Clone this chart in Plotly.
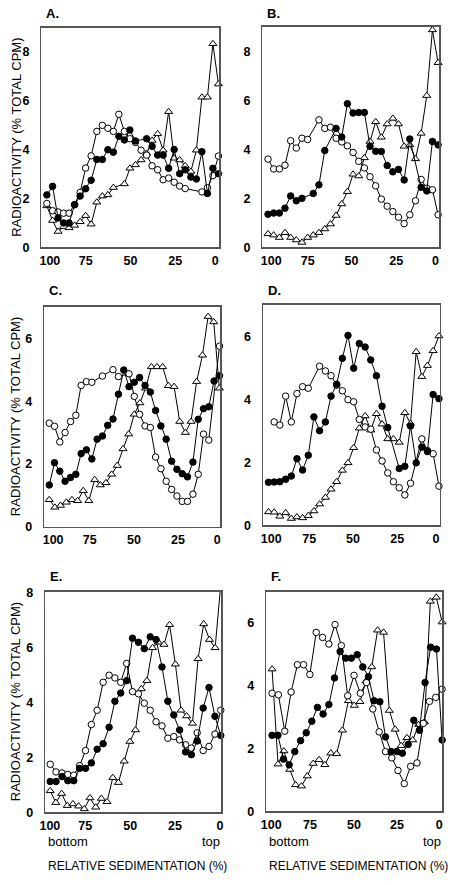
import plotly.graph_objects as go

# ---------------- data (relative sedimentation %, radioactivity % total CPM) ----------------
X_TICK_TEXT = ["100", "75", "50", "25", "0"]

# Panel A
A_X = [96.9, 93.7, 90.6, 87.5, 84.4, 81.3, 78.2, 75.1, 72.0, 68.8, 65.7, 62.6, 59.5, 56.4, 53.3, 50.2,
       47.1, 43.9, 40.8, 37.7, 34.6, 31.5, 28.4, 25.3, 22.2, 19.1, 15.9, 12.8, 9.7, 6.6, 3.5, 0.4]
A_OPEN = [1.8, 1.5, 1.45, 1.4, 1.4, 1.75, 2.25, 3.25, 3.75, 4.75, 5.0, 4.88, 4.75, 5.45, 4.75, 4.45,
          4.3, 3.98, 3.78, 3.34, 3.18, 2.77, 2.84, 2.67, 2.51, 2.41, None, None, 2.27, 2.44, 2.94, 3.74]
A_FILLED = [2.15, 2.5, 1.2, 1.0, 1.0, 1.75, 2.1, 2.4, 2.75, 3.6, 3.6, 4.0, 3.9, 4.55, 4.4, 4.81,
            4.36, None, 4.45, 4.14, 3.78, 3.78, 3.24, 4.01, 3.02, 3.18, 2.88, 2.80, 3.92, 2.21, 3.24, 3.02]
A_TRI = [1.7, 1.1, 0.65, 0.85, 0.8, 0.9, 1.05, 1.3, 0.95, 1.85, 2.1, 2.15, 2.45, None, 2.6, 3.24,
         3.38, 3.58, 3.85, 4.38, 4.65, 3.98, 5.56, 3.65, 3.58, 3.34, 3.11, 3.98, 6.15, 6.15, 8.34, 6.69]
A_XTICKS = [95.2, 75.1, 49.9, 24.7, 2.2]

# Panel B
B_X = [96.8, 93.6, 90.4, 87.2, 84.0, 80.8, 77.6, 74.4, 71.2, 68.0, 64.7, 61.5, 58.3, 55.1, 51.9, 48.7,
       45.5, 42.3, 39.1, 35.9, 32.7, 29.4, 26.2, 23.0, 19.8, 16.6, 13.4, 10.2, 7.0, 3.8, 0.6]
B_OPEN = [3.6, 3.2, 3.2, 3.35, 4.35, 4.05, 4.45, 4.4, None, 5.2, 4.85, 4.9, 4.45, 4.3, 4.14, 3.87,
          3.51, 3.24, 2.88, 2.51, 1.97, 1.68, 1.46, 1.23, 0.97, 1.33, 1.9, 2.77, 2.41, 2.35, 1.33]
B_FILLED = [1.35, 1.4, 1.4, 1.6, 2.1, 1.9, 2.0, None, 2.2, 2.55, 3.95, None, 4.85, 4.5, 5.86, 5.48,
            5.5, 5.5, 4.12, 3.92, 3.91, 3.34, 3.08, 3.18, 2.75, 4.42, None, 2.45, 2.3, 4.32, 4.18]
B_TRI = [0.55, 0.5, 0.4, 0.6, 0.4, 0.3, 0.2, 0.4, 0.5, 0.6, 0.75, 0.95, 1.3, 1.77, 2.27, 2.98,
         2.91, 3.65, 4.32, 5.12, 4.49, 5.03, 5.26, 5.03, 4.12, 4.18, 3.61, 4.65, 6.19, 8.87, 7.53]
B_XTICKS = [95.0, 74.3, 49.6, 24.3, 2.1]

# Panel C
C_X = [97.2, 94.2, 91.2, 88.2, 85.1, 82.1, 79.1, 76.1, 73.0, 70.0, 67.0, 64.0, 61.0, 57.9, 54.9, 51.9,
       48.9, 45.9, 42.8, 39.8, 36.8, 33.8, 30.8, 27.7, 24.7, 21.7, 18.7, 15.6, 12.6, 9.6, 6.6, 3.6, 0.5]
C_OPEN = [3.3, 3.2, 2.7, 3.0, 3.35, 3.55, 4.5, 4.62, 4.6, None, 4.8, None, 5.0, 4.78, None, 4.87,
          4.15, 3.58, 3.21, 3.16, 2.22, 1.85, 1.45, 1.19, 0.98, 0.81, 0.81, 1.04, 1.67, 2.95, 2.76, None, 5.75]
C_FILLED = [1.33, 2.04, 1.77, 1.45, 1.57, 1.67, 2.33, 2.45, 2.16, 2.79, 2.89, 3.23, 3.43, 4.22, 4.99, 4.46,
            4.6, 4.75, 4.5, 4.29, 3.7, 3.21, 2.79, 2.09, 1.83, 1.69, 1.59, 2.06, 3.42, 3.76, 3.82, 4.64, 4.81]
C_TRI_X = [97.2, 94.0, 90.8, 87.5, 84.3, 81.1, 77.9, 74.7, 71.4, 68.2, 65.0, 61.8, 58.6, 55.3, 52.1, 48.9,
           45.7, 42.5, 39.2, 36.0, 32.8, 29.6, 26.3, 23.1, 19.9, 16.7, 13.5, 10.2, 7.0, 3.8, 0.6]
C_TRI = [0.86, 0.62, 0.68, 0.78, 0.86, 0.83, 1.15, 0.83, 1.5, 1.33, 1.4, 1.67, 1.95, 2.48, 2.95, 3.58,
         3.94, 4.41, 5.09, 5.09, 5.09, 4.49, 4.46, 3.35, 3.0, 3.35, 4.62, 5.46, 6.69, 6.52, 4.41]
C_XTICKS = [95.0, 74.2, 49.1, 24.1, 1.8]

# Panel D
D_X = [96.9, 93.7, 90.5, 87.2, 84.0, 80.8, 77.6, 74.4, 71.2, 68.0, 64.7, 61.5, 58.3, 55.1, 51.9, 48.7,
       45.5, 42.2, 39.0, 35.8, 32.6, 29.4, 26.2, 22.9, 19.7, 16.5, 13.3, 10.1, 6.9, 3.7, 0.4]
D_OPEN = [None, 3.28, 3.18, 4.1, 3.28, 4.18, 4.4, 4.35, None, 5.05, 4.9, 4.75, 4.45, 4.27, 3.99, 3.92,
          3.36, 3.12, 3.05, 2.39, 2.04, 1.66, 1.38, 1.19, 0.96, 1.33, None, 2.74, 2.37, 2.27, 1.24]
D_FILLED = [1.36, 1.37, 1.38, 1.46, 1.56, 2.11, 1.75, 2.22, 3.44, 3.0, 3.28, 4.1, 4.48, 5.3, 6.03, 4.99,
            5.77, 5.66, 5.25, 4.75, 3.78, 3.1, None, 1.8, 1.87, 3.15, 1.98, 2.48, 2.34, 4.15, 4.02]
D_TRI = [0.42, 0.41, 0.28, 0.39, 0.21, 0.26, 0.23, 0.3, 0.45, 0.67, 0.88, 1.14, 1.38, 1.74, 1.98, 2.46,
         3.08, 3.47, 3.02, 3.54, 3.21, 2.74, 2.74, 2.63, 3.57, 3.23, 5.51, 4.72, 5.07, 5.54, 6.01]
D_XTICKS = [95.4, 73.9, 49.1, 24.0, 2.1]

# Panel E
E_X = [97.2, 93.9, 90.5, 87.2, 83.8, 80.5, 77.1, 73.8, 70.5, 67.1, 63.7, 60.4, 57.1, 53.7, 50.4,
       47.0, 43.7, 40.3, 37.0, 33.6, 30.3, 26.9, 23.6, 20.2, 16.9, 13.6, 10.2, 6.9, 3.5, 0.2]
E_OPEN = [1.75, 1.47, 1.43, 1.38, 1.35, 1.7, 2.25, 3.2, 3.72, 4.74, 5.0, 4.9, 4.74, 5.43, 4.4,
          4.32, 3.98, 3.72, 3.3, 3.15, 2.7, 2.76, 2.64, 2.46, 2.34, 2.9, 2.25, 2.4, 2.85, 3.72]
E_FILLED = [1.12, 1.12, 1.3, 1.15, 1.15, 1.6, 1.6, 1.8, 2.3, 2.5, 3.1, 4.05, 4.35, 4.8, 6.35,
            6.2, 5.97, 6.4, 6.3, 5.3, 4.05, 3.55, 3.0, 2.2, 2.1, 2.6, 3.8, 4.55, 3.5, 2.8]
E_TRI_X = [97.2, 94.0, 90.7, 87.5, 84.3, 81.0, 77.8, 74.6, 71.3, 68.1, 64.9, 61.6, 58.4, 55.1, 51.9, 48.7,
           45.4, 42.2, 39.0, 35.7, 32.5, 29.3, 26.0, 22.8, 19.6, 16.3, 13.1, 9.9, 6.6, 3.4, 0.2]
E_TRI = [0.78, 0.35, 0.68, 0.24, 0.3, 0.22, 0.12, 0.52, 0.18, 0.5, 0.38, 1.26, 1.08, 1.86, 2.58, 3.0,
         4.5, 4.8, 6.0, 6.2, 6.12, 6.84, 5.4, 3.72, 3.51, 3.24, 5.6, 6.87, 6.3, 6.0, 8.3]
E_XTICKS = [97.4, 77.3, 51.7, 26.2, 0.6]

# Panel F
F_X = [96.7, 93.4, 90.2, 87.0, 83.8, 80.5, 77.3, 74.1, 70.9, 67.7, 64.4, 61.2, 58.0, 54.8, 51.6, 48.3,
       45.1, 41.9, 38.7, 35.4, 32.2, 29.0, 25.8, 22.6, 19.3, 16.1, 12.9, 9.7, 6.5, 3.2, 0.0]
F_FILLED = [2.42, 2.42, 1.66, 1.48, 1.9, 2.25, 2.5, 2.87, 3.31, 3.1, 3.4, 4.25, 5.09, 4.88, 4.88, 4.99,
            4.6, 4.29, 3.52, 3.49, 2.37, 1.9, 1.9, 1.85, 2.13, 2.9, 2.58, 4.1, 5.23, 5.17, 2.27]
F_TRI_X = [96.7, 93.3, 90.0, 86.6, 83.3, 80.0, 76.7, 73.3, 70.0, 66.7, 63.3, 60.0, 56.7, 53.3, 50.0,
           46.7, 43.3, 40.0, 36.7, 33.3, 30.0, 26.7, 23.3, 20.0, 16.7, 13.3, 10.0, 6.7, 3.3, 0.0]
F_TRI = [4.53, 1.5, 1.92, 1.33, 0.84, 0.8, 1.12, 1.52, 1.64, 1.48, 1.85, 1.83, 2.58, 3.52, 3.37,
         3.49, 4.15, 4.6, 5.77, 5.7, 3.21, 2.61, 2.09, 2.34, 2.27, 2.76, 2.84, 6.69, 6.82, 6.03]
F_OPEN_X = [96.7, 93.1, 89.5, 85.9, 82.3, 78.8, 75.2, 71.6, 68.0, 64.4, 60.9, 57.3, 53.7, 50.1,
            46.5, 43.0, 39.4, 35.8, 32.2, 28.6, 25.1, 21.5, 17.9, 14.3, 10.7, 7.2, 3.6, 0.0]
F_OPEN = [3.76, 3.71, 2.55, 3.8, 4.67, 4.67, 4.36, 5.7, 5.54, 5.33, 5.95, 5.28, 3.68, 4.33,
          3.76, 4.1, 3.26, 2.53, 1.9, 1.7, 1.3, 0.88, 1.43, 1.54, 2.8, 3.5, 3.63, 3.89]
F_XTICKS = [97.2, 75.2, 50.1, 25.7, 1.7]

Y_TITLE = "RADIOACTIVITY (% TOTAL CPM)"
X_TITLE = "RELATIVE SEDIMENTATION (%)"

# ---------------- figure ----------------
W, H = 450, 885
FONT = "Arial, 'Liberation Sans', sans-serif"


def px_x(v):
    return v / W


def px_y(v):
    return 1 - v / H


MARK = {
    "tri": dict(symbol="triangle-up", size=7, color="white", line=dict(color="black", width=1)),
    "open": dict(symbol="circle", size=6.5, color="white", line=dict(color="black", width=1)),
    "filled": dict(symbol="circle", size=6.5, color="black", line=dict(color="black", width=1)),
}

panels = [
    dict(label="A.", box=(36, 217, 23, 245.7), yr=9.0, yt=[0, 2, 4, 6, 8], xt=A_XTICKS,
         series=[(A_X, A_TRI, "tri"), (A_X, A_OPEN, "open"), (A_X, A_FILLED, "filled")], ytitle=True,
         lab_y=9),
    dict(label="B.", box=(261, 441, 22, 245.7), yr=9.0, yt=[0, 2, 4, 6, 8], xt=B_XTICKS,
         series=[(B_X, B_TRI, "tri"), (B_X, B_OPEN, "open"), (B_X, B_FILLED, "filled")], ytitle=False,
         lab_y=9),
    dict(label="C.", box=(39, 218.3, 306, 529), yr=7.0, yt=[0, 2, 4, 6], xt=C_XTICKS,
         series=[(C_TRI_X, C_TRI, "tri"), (C_X, C_OPEN, "open"), (C_X, C_FILLED, "filled")], ytitle=True,
         lab_y=289),
    dict(label="D.", box=(261.7, 441.5, 304, 527.3), yr=7.0, yt=[0, 2, 4, 6], xt=D_XTICKS,
         series=[(D_X, D_TRI, "tri"), (D_X, D_OPEN, "open"), (D_X, D_FILLED, "filled")], ytitle=False,
         lab_y=289),
    dict(label="E.", box=(40, 219, 594.7, 818.3), yr=8.05, yt=[0, 2, 4, 6, 8], xt=E_XTICKS,
         series=[(E_TRI_X, E_TRI, "tri"), (E_X, E_OPEN, "open"), (E_X, E_FILLED, "filled")], ytitle=True,
         lab_y=579, bottom=True),
    dict(label="F.", box=(265, 444, 594.7, 817.3), yr=7.0, yt=[0, 2, 4, 6], xt=F_XTICKS,
         series=[(F_TRI_X, F_TRI, "tri"), (F_OPEN_X, F_OPEN, "open"), (F_X, F_FILLED, "filled")], ytitle=False,
         lab_y=579, bottom=True),
]

fig = go.Figure()
annotations = []
layout_axes = {}

for i, p in enumerate(panels):
    k = "" if i == 0 else str(i + 1)
    xa, ya = "x" + k, "y" + k
    left, right, top, bottom = p["box"]
    for xs, ys, kind in p["series"]:
        fig.add_trace(go.Scatter(
            x=xs, y=ys, mode="lines+markers", connectgaps=True,
            xaxis=xa, yaxis=ya, showlegend=False, hoverinfo="skip",
            line=dict(color="black", width=1), marker=MARK[kind],
            cliponaxis=(p["label"] == "E." and kind == "tri"),
        ))
    layout_axes["xaxis" + k] = dict(
        domain=[px_x(left), px_x(right)], range=[100, 0], anchor=ya,
        tickmode="array", tickvals=p["xt"], ticktext=X_TICK_TEXT,
        ticks="", showgrid=False, zeroline=False,
        showline=True, mirror=True, linecolor="#555", linewidth=1.5,
        tickfont=dict(family=FONT, size=12.5, color="black", weight="bold"),
        ticklabelstandoff=1,
    )
    layout_axes["yaxis" + k] = dict(
        domain=[px_y(bottom), px_y(top)], range=[0, p["yr"]], anchor=xa,
        tickmode="array", tickvals=p["yt"],
        ticks="", showgrid=False, zeroline=False,
        showline=True, mirror=True, linecolor="#555", linewidth=1.5,
        tickfont=dict(family=FONT, size=12.5, color="black", weight="bold"),
        ticklabelstandoff=8,
    )
    annotations.append(dict(
        text="<b>%s</b>" % p["label"], xref="paper", yref="paper",
        x=px_x(left + 3), y=px_y(p["lab_y"]), xanchor="left", yanchor="middle",
        showarrow=False, font=dict(family=FONT, size=13, color="black"),
    ))
    if p["ytitle"]:
        annotations.append(dict(
            text=Y_TITLE, xref="paper", yref="paper", textangle=-90,
            x=px_x(10.5), y=px_y((top + bottom) / 2), xanchor="center", yanchor="middle",
            showarrow=False, font=dict(family=FONT, size=13, color="black"),
        ))
    if p.get("bottom"):
        annotations.append(dict(
            text="bottom", xref="paper", yref="paper",
            x=px_x(left + 1), y=px_y(848), xanchor="left", yanchor="middle",
            showarrow=False, font=dict(family=FONT, size=13, color="black"),
        ))
        annotations.append(dict(
            text="top", xref="paper", yref="paper",
            x=px_x(right + 1), y=px_y(848), xanchor="right", yanchor="middle",
            showarrow=False, font=dict(family=FONT, size=13, color="black"),
        ))
        annotations.append(dict(
            text=X_TITLE, xref="paper", yref="paper",
            x=px_x((left + right) / 2 + 4), y=px_y(873), xanchor="center", yanchor="middle",
            showarrow=False, font=dict(family=FONT, size=12, color="black"),
        ))

fig.update_layout(
    width=W, height=H, margin=dict(l=0, r=0, t=0, b=0),
    paper_bgcolor="white", plot_bgcolor="white",
    annotations=annotations, **layout_axes,
)

fig.write_html(
    "out.html",
    config={"displayModeBar": False, "staticPlot": True},
    post_script="document.body.style.margin='0';document.body.style.overflow='hidden';",
)
